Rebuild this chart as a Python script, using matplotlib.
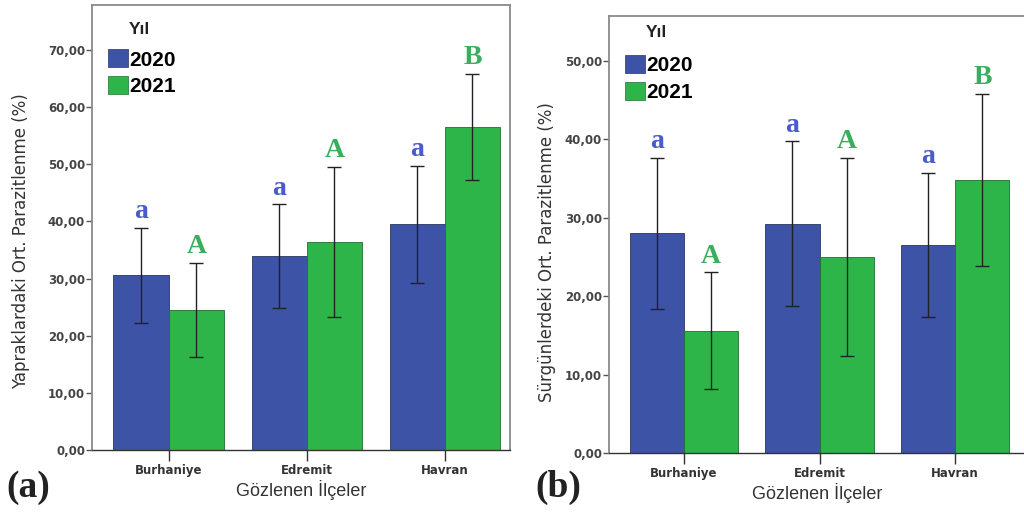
import numpy as np
import matplotlib.pyplot as plt
from matplotlib.patches import Patch

districts = ["Burhaniye", "Edremit", "Havran"]
years = ["2020", "2021"]

# yapraklarda parazitlenme (%)
leaf_2020 = [30.6, 33.9, 39.5]
leaf_2020_err = [8.3, 9.1, 10.3]
leaf_2021 = [24.5, 36.4, 56.5]
leaf_2021_err = [8.3, 13.2, 9.3]

# surgunlerde parazitlenme (%)
shoot_2020 = [28.0, 29.2, 26.5]
shoot_2020_err = [9.6, 10.5, 9.2]
shoot_2021 = [15.6, 25.0, 34.8]
shoot_2021_err = [7.4, 12.6, 11.0]

letters_2020 = ["a", "a", "a"]
letters_2021_leaf = ["A", "A", "B"]
letters_2021_shoot = ["A", "A", "B"]

blue = "#3c53a6"
green = "#2eb54a"
blue_txt = "#4a5cc8"
green_txt = "#3aae5c"

sans = ["Liberation Sans", "DejaVu Sans"]
serif = ["Liberation Serif", "DejaVu Serif"]
plt.rcParams["font.family"] = sans

fig = plt.figure(figsize=(10.24, 5.13), dpi=100)


def panel(rect, vals20, err20, vals21, err21, let21, ylim, yticks, xlim, ylabel,
          ylabel_xy, leg_y, title_y, tag, tag_x):
    ax = fig.add_axes(rect)
    x = np.arange(len(districts))
    w = 0.4
    ax.bar(x - w / 2, vals20, w, color=blue, edgecolor="#2a3560", linewidth=0.6, zorder=2)
    ax.bar(x + w / 2, vals21, w, color=green, edgecolor="#1f6e33", linewidth=0.6, zorder=2)
    ax.errorbar(x - w / 2, vals20, yerr=err20, fmt="none", ecolor="#222222",
                elinewidth=1, capsize=5, capthick=1, zorder=3)
    ax.errorbar(x + w / 2, vals21, yerr=err21, fmt="none", ecolor="#222222",
                elinewidth=1, capsize=5, capthick=1, zorder=3)

    # harf gruplari hata cubuklarinin ustune
    for xi, v, e, s in zip(x - w / 2, vals20, err20, letters_2020):
        ax.annotate(s, (xi, v + e), xytext=(0, 7), textcoords="offset points",
                    ha="center", va="baseline", fontsize=20, fontweight="bold",
                    family=serif, color=blue_txt)
    for xi, v, e, s in zip(x + w / 2, vals21, err21, let21):
        ax.annotate(s, (xi, v + e), xytext=(0, 7), textcoords="offset points",
                    ha="center", va="baseline", fontsize=20, fontweight="bold",
                    family=serif, color=green_txt)

    ax.set_xlim(*xlim)
    ax.set_ylim(*ylim)
    ax.set_xticks(x)
    ax.set_xticklabels(districts, fontsize=8.5, fontweight="bold", color="#333333",
                       family="DejaVu Sans")
    ax.set_yticks(yticks)
    ax.set_yticklabels([f"{t:.2f}".replace(".", ",") for t in yticks],
                       fontsize=8.5, fontweight="bold", color="#444444",
                       family="DejaVu Sans")
    ax.tick_params(axis="x", length=8, width=1, color="#333333", pad=2)
    ax.tick_params(axis="y", length=4, width=1, color="#555555", pad=1)

    for side in ["top", "right", "left"]:
        ax.spines[side].set_color("#8a8a8a")
        ax.spines[side].set_linewidth(1.3)
    ax.spines["bottom"].set_color("#333333")
    ax.spines["bottom"].set_linewidth(1.0)

    ax.set_ylabel(ylabel, fontsize=12, color="#333333", family="DejaVu Sans")
    ax.yaxis.set_label_coords(*ylabel_xy)
    ax.set_xlabel("Gözlenen İlçeler", fontsize=13, color="#333333", labelpad=2)

    handles = [Patch(facecolor=blue, edgecolor="#2a3560", linewidth=0.5),
               Patch(facecolor=green, edgecolor="#1f6e33", linewidth=0.5)]
    ax.legend(handles, years, loc="upper left", bbox_to_anchor=(0.038, leg_y),
              frameon=False, prop={"family": sans, "weight": "bold", "size": 15},
              handlelength=0.95, handleheight=0.95, handletextpad=0.08,
              labelspacing=0.3, borderaxespad=0, borderpad=0)
    ax.text(0.088, title_y, "Yıl", transform=ax.transAxes, fontsize=12.5,
            fontweight="bold", va="center", ha="left", color="#222222")

    fig.text(tag_x, 0.05, tag, fontsize=27, fontweight="bold",
             family=serif, va="center", ha="left", color="#222222")
    return ax


panel([0.0898, 0.1228, 0.408, 0.8675], leaf_2020, leaf_2020_err, leaf_2021, leaf_2021_err,
      letters_2021_leaf, (0, 77.9), np.arange(0, 71, 10), (-0.556, 2.47),
      "Yapraklardaki Ort. Parazitlenme (%)", (-0.148, 0.47), 0.9, 0.944,
      "(a)", 0.006)
panel([0.5947, 0.117, 0.407, 0.852], shoot_2020, shoot_2020_err, shoot_2021, shoot_2021_err,
      letters_2021_shoot, (0, 55.7), np.arange(0, 51, 10), (-0.553, 2.52),
      "Sürgünlerdeki Ort. Parazitlenme (%)", (-0.127, 0.46), 0.91, 0.961,
      "(b)", 0.523)

fig.savefig("out.png", dpi=100)
